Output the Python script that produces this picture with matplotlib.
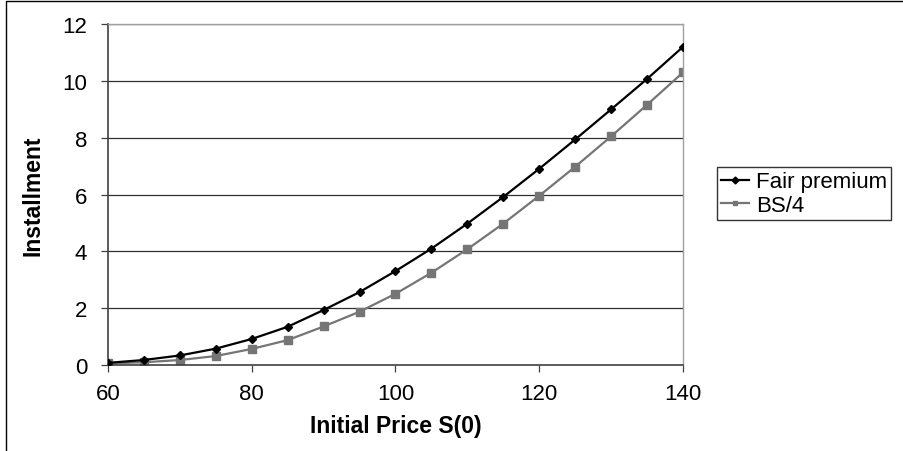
import matplotlib
matplotlib.use("Agg")
import matplotlib.pyplot as plt
from matplotlib.patches import Rectangle

plt.rcParams['font.family'] = ['Liberation Sans', 'DejaVu Sans']

s0 = [60, 65, 70, 75, 80, 85, 90, 95, 100, 105, 110, 115, 120, 125, 130, 135, 140]
fair_premium = [0.08, 0.18, 0.34, 0.58, 0.92, 1.35, 1.94, 2.57, 3.31, 4.10, 4.98,
                5.92, 6.91, 7.94, 9.00, 10.07, 11.20]
bs_quarter = [0.06, 0.10, 0.18, 0.32, 0.57, 0.88, 1.36, 1.88, 2.51, 3.25, 4.08,
              4.98, 5.96, 6.98, 8.05, 9.16, 10.30]
x_ticks = [60, 80, 100, 120, 140]
y_ticks = [0, 2, 4, 6, 8, 10, 12]

FS = 16

fig = plt.figure(figsize=(9.04, 4.52), dpi=100)
ax = fig.add_axes([0.1195, 0.190, 0.636, 0.7544])

for y in y_ticks[1:]:
    ax.axhline(y, color='#303030', lw=0.9, zorder=1)

ax.plot(s0, fair_premium, color='black', lw=1.6, marker='D', ms=4,
        label='Fair premium', zorder=3)
ax.plot(s0, bs_quarter, color='#757575', lw=1.6, marker='s', ms=5.5,
        label='BS/4', zorder=2)

ax.set_xlim(60, 140)
ax.set_ylim(0, 12)
ax.set_xticks(x_ticks)
ax.set_yticks(y_ticks)
ax.tick_params(axis='both', direction='out', length=5, width=0.9,
               color='#404040', labelsize=FS)
ax.tick_params(axis='x', pad=8)
ax.tick_params(axis='y', pad=10)
for side in ['left', 'bottom']:
    ax.spines[side].set_color('#404040')
    ax.spines[side].set_linewidth(1.2)
for side in ['top', 'right']:
    ax.spines[side].set_color('#a0a0a0')
    ax.spines[side].set_linewidth(1.0)

ax.set_xlabel('Initial Price S(0)', fontsize=16.5, fontweight='bold', labelpad=7)
ax.set_ylabel('Installment', fontsize=16.5, fontweight='bold', labelpad=13)

leg = ax.legend(loc='upper left', bbox_to_anchor=(717 / 904, 1 - 168 / 452),
                bbox_transform=fig.transFigure, frameon=True, fancybox=False,
                edgecolor='black', fontsize=FS, handlelength=1.25,
                handletextpad=0.3, borderpad=0.2, labelspacing=0.1,
                borderaxespad=0)
leg.get_frame().set_linewidth(1.0)
for h in leg.legend_handles:
    h.set_markersize(3.5)

fig.patches.append(Rectangle((6 / 904, -0.1), 1.2, 1.1 - 2 / 452,
                             transform=fig.transFigure, fill=False,
                             edgecolor='black', lw=1.0))

fig.savefig('out.png', dpi=100)
